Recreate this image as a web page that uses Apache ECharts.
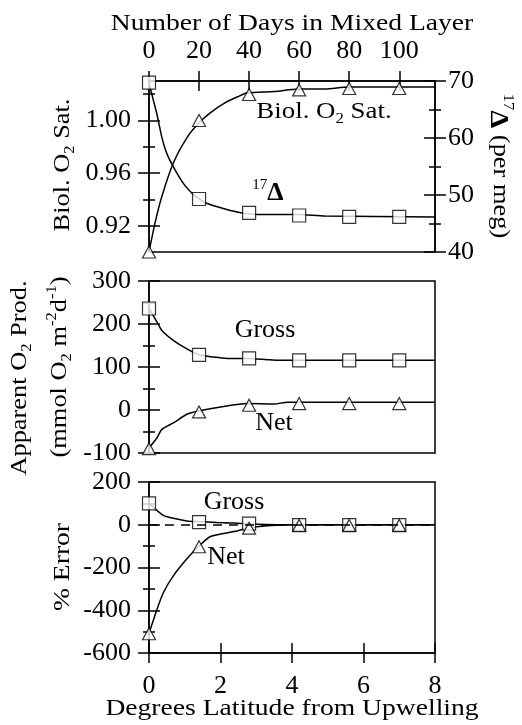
<!DOCTYPE html>
<html>
<head>
<meta charset="utf-8">
<script src="https://cdn.jsdelivr.net/npm/echarts@6/dist/echarts.min.js"></script>
<style>
  html, body { margin: 0; padding: 0; background: #fff; }
  #chart { width: 522px; height: 725px; }
</style>
</head>
<body>
<div id="chart"></div>
<script>
// ---------- DATA ----------
const days = [0, 20, 40, 60, 80, 100];
const degrees = [0, 1.4, 2.8, 4.2, 5.6, 7.0];

// Panel 1: Biological O2 saturation (triangles, left axis) and 17-Delta (squares, right axis)
const satMarks = [0.900, 1.000, 1.0197, 1.0232, 1.0243, 1.0243];
const d17Marks = [69.7, 49.3, 46.85, 46.4, 46.15, 46.15];
const satCurveDays = [0, 2.4, 5.1, 9.8, 15.2, 19.9, 24.6, 30, 35.4, 39.4, 50.1, 59.6, 70.3, 79.7, 114.3];
const satCurve = [0.900, 0.922, 0.942, 0.968, 0.987, 0.998, 1.006, 1.013, 1.018, 1.021, 1.022, 1.024, 1.024, 1.0255, 1.0255];
const d17CurveDays = [0, 1.7, 3.1, 5.1, 7.1, 9.8, 13.8, 17.9, 19.9, 23.3, 30, 36.7, 43.4, 59.6, 70.3, 114.3];
const d17Curve = [69.7, 66.7, 64.3, 60.2, 57.3, 54.9, 52.0, 50.0, 49.4, 48.5, 47.6, 46.9, 46.6, 46.6, 46.3, 46.15];

// Panel 2: Apparent O2 production
const grossMarks = [236, 128, 120, 115.6, 115.6, 115.6];
const netMarks = [-90, -4.5, 11, 15, 15, 15];
const grossCurveX = [0, 0.22, 0.36, 0.68, 1.06, 1.38, 1.81, 2.19, 2.75, 3.31, 3.6, 8];
const grossCurve = [236, 205, 185, 162, 142, 129, 123, 120, 120, 117, 115.6, 115.6];
const netCurveX = [0, 0.22, 0.36, 0.68, 1.06, 1.38, 2.0, 2.75, 3.5, 3.88, 8];
const netCurve = [-88, -65, -45, -30, -10, -2.3, 7, 15, 14, 18, 18];

// Panel 3: % Error
const grossErrMarks = [100, 12, 5, -2, -2, -2];
const netErrMarks = [-510, -103, -16, -3, -3, -3];
const grossErrCurveX = [0, 0.22, 0.4, 0.68, 1.06, 1.38, 1.9, 2.38, 2.85, 3.6, 8];
const grossErrCurve = [100, 67, 44, 30, 18, 15, 11, 8, 3, 0, 0];
const netErrCurveX = [0, 0.22, 0.4, 0.68, 1.06, 1.38, 1.72, 2.38, 2.75, 3.31, 4.07, 8];
const netErrCurve = [-509, -398, -318, -239, -159, -103, -55, -32, -16, -5, 0, 0];
const zeroLineX = [0, 7.9];

// Tick values
const dayTicks = [0, 20, 40, 60, 80, 100];
const degTicks = [0, 2, 4, 6, 8];
const satMajor = [0.92, 0.96, 1.00];
const satMinor = [0.94, 0.98, 1.02];
const d17Major = [40, 50, 60, 70];
const d17Minor = [45, 55, 65];
const prodMajor = [-100, 0, 100, 200, 300];
const prodMinor = [-50, 50, 150, 250];
const errMajor = [-600, -400, -200, 0, 200];
const errMinor = [-500, -300, -100, 100];

// ---------- STYLE HELPERS ----------
const FONT = 'Liberation Serif';
const BLACK = '#000';
const TICK_FS = 26;

function zip(xs, ys) { return xs.map((x, i) => [x, ys[i]]); }

function tickAxes(common, majors, minors, majorLen, minorLen, labelCfg) {
  const base = Object.assign({ type: 'value', splitLine: { show: false } }, common);
  const ls = { color: BLACK, width: 1.5 };
  const out = [];
  out.push(Object.assign({}, base, {
    axisLine: { show: true, onZero: false, lineStyle: ls },
    axisTick: { show: true, inside: false, length: majorLen, customValues: majors, lineStyle: ls },
    axisLabel: labelCfg
  }));
  out.push(Object.assign({}, base, {
    axisLine: { show: false, onZero: false },
    axisTick: { show: true, inside: true, length: majorLen, customValues: majors, lineStyle: ls },
    axisLabel: { show: false }
  }));
  if (minors) {
    out.push(Object.assign({}, base, {
      axisLine: { show: false, onZero: false },
      axisTick: { show: true, inside: false, length: minorLen, customValues: minors, lineStyle: ls },
      axisLabel: { show: false }
    }));
    out.push(Object.assign({}, base, {
      axisLine: { show: false, onZero: false },
      axisTick: { show: true, inside: true, length: minorLen, customValues: minors, lineStyle: ls },
      axisLabel: { show: false }
    }));
  }
  return out;
}

function label(values, margin, fmt) {
  return { show: true, customValues: values, margin: margin, color: BLACK,
           fontFamily: FONT, fontSize: TICK_FS, formatter: fmt || (v => String(v)) };
}

// ---------- AXES ----------
const daysMax = 8 / 1.4 * 20;
const xAxes = [];
const yAxes = [];

const X_DAYS = xAxes.length;
xAxes.push(...tickAxes({ gridIndex: 0, position: 'top', min: 0, max: daysMax }, dayTicks, null, 10, 0,
  label(dayTicks, 17)));
const X_MID = xAxes.length;
xAxes.push({ gridIndex: 1, type: 'value', min: 0, max: 8, show: false, axisLine: { onZero: false } });
const X_DEG = xAxes.length;
xAxes.push(...tickAxes({ gridIndex: 2, position: 'bottom', min: 0, max: 8 }, degTicks, null, 10, 0,
  label(degTicks, 20)));

const Y_SAT = yAxes.length;
yAxes.push(...tickAxes({ gridIndex: 0, position: 'left', min: 0.90, max: 1.03 }, satMajor, satMinor, 11, 6,
  label(satMajor, 18, v => Number(v).toFixed(2))));
const Y_D17 = yAxes.length;
yAxes.push(...tickAxes({ gridIndex: 0, position: 'right', min: 40, max: 70 }, d17Major, d17Minor, 11, 6,
  label(d17Major, 13)));
const Y_PROD = yAxes.length;
yAxes.push(...tickAxes({ gridIndex: 1, position: 'left', min: -100, max: 300 }, prodMajor, prodMinor, 11, 6,
  label(prodMajor, 18)));
const Y_ERR = yAxes.length;
yAxes.push(...tickAxes({ gridIndex: 2, position: 'left', min: -600, max: 200 }, errMajor, errMinor, 11, 6,
  label(errMajor, 18)));

// ---------- SERIES ----------
function curve(xi, yi, data) {
  return { type: 'line', xAxisIndex: xi, yAxisIndex: yi, data: data, smooth: 0.25,
           showSymbol: false, symbol: 'none', silent: true, z: 2,
           lineStyle: { color: BLACK, width: 1.5 } };
}
function marks(xi, yi, data, shape, z) {
  return { type: 'scatter', xAxisIndex: xi, yAxisIndex: yi, data: data, clip: false, silent: true,
           symbol: shape, symbolSize: shape === 'triangle' ? [13, 12] : 13, z: z || 3,
           itemStyle: { color: '#fff', borderColor: BLACK, borderWidth: 1.2 } };
}

const series = [
  curve(X_DAYS, Y_SAT, zip(satCurveDays, satCurve)),
  curve(X_DAYS, Y_D17, zip(d17CurveDays, d17Curve)),
  marks(X_DAYS, Y_SAT, zip(days, satMarks), 'triangle'),
  marks(X_DAYS, Y_D17, zip(days, d17Marks), 'rect'),

  curve(X_MID, Y_PROD, zip(grossCurveX, grossCurve)),
  curve(X_MID, Y_PROD, zip(netCurveX, netCurve)),
  marks(X_MID, Y_PROD, zip(degrees, grossMarks), 'rect'),
  marks(X_MID, Y_PROD, zip(degrees, netMarks), 'triangle'),

  Object.assign(curve(X_DEG, Y_ERR, zip(grossErrCurveX, grossErrCurve)), {
    markLine: { silent: true, symbol: 'none', label: { show: false },
      lineStyle: { color: BLACK, width: 1.5, type: [9, 7] },
      data: [[{ coord: [zeroLineX[0], 0] }, { coord: [zeroLineX[1], 0] }]] }
  }),
  curve(X_DEG, Y_ERR, zip(netErrCurveX, netErrCurve)),
  marks(X_DEG, Y_ERR, zip(degrees, grossErrMarks), 'rect', 3),
  marks(X_DEG, Y_ERR, zip(degrees, netErrMarks), 'triangle', 4)
];

// ---------- TEXT ----------
function rich(fs) {
  const sfs = Math.round(fs * 0.64);
  return {
    t: { fontFamily: FONT, fontSize: fs, lineHeight: fs + 6, color: BLACK },
    s: { fontFamily: FONT, fontSize: sfs, color: BLACK, verticalAlign: 'bottom' },
    p: { fontFamily: FONT, fontSize: sfs, color: BLACK, verticalAlign: 'top' },
    D: { fontFamily: FONT, fontSize: fs + 2, lineHeight: fs + 4, color: BLACK, fontWeight: 'bold', verticalAlign: 'bottom' },
    P: { fontFamily: FONT, fontSize: sfs, color: BLACK, verticalAlign: 'top' }
  };
}
function txt(x, y, text, fs, rot, sx) {
  return { type: 'text', x: x, y: y, rotation: rot || 0, scaleX: sx || 1, silent: true, z: 10,
           style: { text: text, align: 'center', verticalAlign: 'middle', rich: rich(fs),
                    fontFamily: FONT, fontSize: fs, fill: BLACK } };
}
const R90 = Math.PI / 2;
const graphics = [
  txt(292, 24, '{t|Number of Days in Mixed Layer}', 24, 0, 1.15),
  txt(292, 709, '{t|Degrees Latitude from Upwelling}', 24, 0, 1.15),
  txt(63, 165, '{t|Biol. O}{s|2}{t| Sat.}', 24, R90, 1.1),
  txt(500, 166, '{P|17}{D|Δ}{t| (per meg)}', 24, -R90, 1.1),
  txt(20, 378, '{t|Apparent O}{s|2}{t| Prod.}', 24, R90, 1.1),
  txt(60, 367, '{t|(mmol O}{s|2}{t| m}{p|-2}{t|d}{p|-1}{t|)}', 24, R90, 1.1),
  txt(63, 567, '{t|% Error}', 24, R90, 1.15),
  txt(324, 112, '{t|Biol. O}{s|2}{t| Sat.}', 24, 0, 1.12),
  txt(268, 192, '{P|17}{D|Δ}', 24),
  txt(265, 330, '{t|Gross}', 26),
  txt(274, 423, '{t|Net}', 26),
  txt(234, 502, '{t|Gross}', 26),
  txt(226, 557, '{t|Net}', 26)
];

// ---------- CHART ----------
const gridBase = { left: 149, width: 286, show: true, borderColor: BLACK, borderWidth: 1.5,
                   backgroundColor: 'transparent', containLabel: false, outerBoundsMode: 'none' };
const chart = echarts.init(document.getElementById('chart'), null, { renderer: 'canvas' });
chart.setOption({
  animation: false,
  backgroundColor: '#fff',
  textStyle: { fontFamily: FONT, color: BLACK },
  grid: [
    Object.assign({ top: 81, height: 171 }, gridBase),
    Object.assign({ top: 281, height: 172 }, gridBase),
    Object.assign({ top: 482, height: 171 }, gridBase)
  ],
  xAxis: xAxes,
  yAxis: yAxes,
  series: series,
  graphic: graphics
});
</script>
</body>
</html>
